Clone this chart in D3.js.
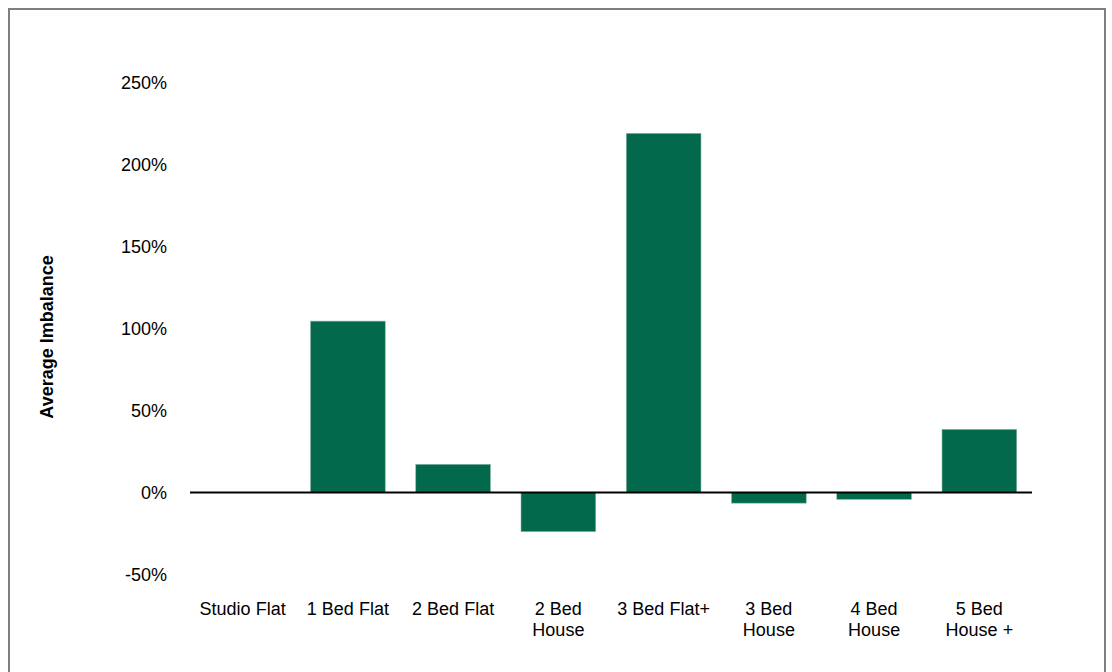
<!DOCTYPE html>
<html>
<head>
<meta charset="utf-8">
<script src="https://cdn.jsdelivr.net/npm/d3@7"></script>
<style>
  html, body { margin: 0; padding: 0; background: #fff; }
  svg { display: block; font-family: "Liberation Sans", Arial, sans-serif; }
</style>
</head>
<body>
<svg id="chart" width="1112" height="672"></svg>
<script>
// Average imbalance by property type
const categories = [
  ["Studio Flat"], ["1 Bed Flat"], ["2 Bed Flat"], ["2 Bed", "House"],
  ["3 Bed Flat+"], ["3 Bed", "House"], ["4 Bed", "House"], ["5 Bed", "House +"]
];
const imbalance = [0, 104.5, 17.2, -23.9, 219, -6.5, -4.2, 38.5];
const yTicks = [-50, 0, 50, 100, 150, 200, 250];

const svg = d3.select("#chart");
const fontSize = 18;

// Outer frame
svg.append("rect")
  .attr("x", 9).attr("y", 9)
  .attr("width", 1096).attr("height", 700)
  .attr("fill", "none")
  .attr("stroke", "#7f7f7f")
  .attr("stroke-width", 2);

const keys = categories.map(c => c.join(" "));

const x = d3.scaleBand()
  .domain(keys)
  .range([190, 1032])
  .paddingInner(0.29)
  .paddingOuter(0.145);

const y = d3.scaleLinear()
  .domain([-50, 250])
  .range([574.5, 82.5]);

// Y tick labels (no axis line or tick marks)
const yAxis = svg.append("g")
  .attr("transform", "translate(173,0)")
  .call(d3.axisLeft(y).tickValues(yTicks).tickFormat(d => d + "%").tickSize(0).tickPadding(6));
yAxis.select(".domain").remove();
yAxis.selectAll("text")
  .attr("font-size", fontSize)
  .attr("font-family", "Liberation Sans, Arial, sans-serif")
  .attr("fill", "#000");

// Bars
svg.append("g").selectAll("rect")
  .data(imbalance)
  .join("rect")
  .attr("x", (d, i) => x(keys[i]))
  .attr("width", x.bandwidth())
  .attr("y", d => y(Math.max(0, d)))
  .attr("height", d => Math.abs(y(d) - y(0)))
  .attr("fill", "#02694c")
  .attr("stroke", "#8fb8a8")
  .attr("stroke-width", 0.6);

// Zero baseline
svg.append("line")
  .attr("x1", 190).attr("x2", 1032)
  .attr("y1", y(0)).attr("y2", y(0))
  .attr("stroke", "#000")
  .attr("stroke-width", 2);

// Category labels
const xl = svg.append("g").selectAll("text")
  .data(categories)
  .join("text")
  .attr("x", (d, i) => x(keys[i]) + x.bandwidth() / 2)
  .attr("y", 614.5)
  .attr("text-anchor", "middle")
  .attr("font-size", fontSize)
  .attr("fill", "#000");
xl.selectAll("tspan")
  .data(d => d)
  .join("tspan")
  .attr("x", function () { return d3.select(this.parentNode).attr("x"); })
  .attr("dy", (d, i) => i === 0 ? 0 : 21.5)
  .text(d => d);

// Y axis title
svg.append("text")
  .attr("transform", "translate(53,337) rotate(-90)")
  .attr("text-anchor", "middle")
  .attr("font-size", fontSize)
  .attr("font-weight", "bold")
  .attr("fill", "#000")
  .text("Average Imbalance");
</script>
</body>
</html>
